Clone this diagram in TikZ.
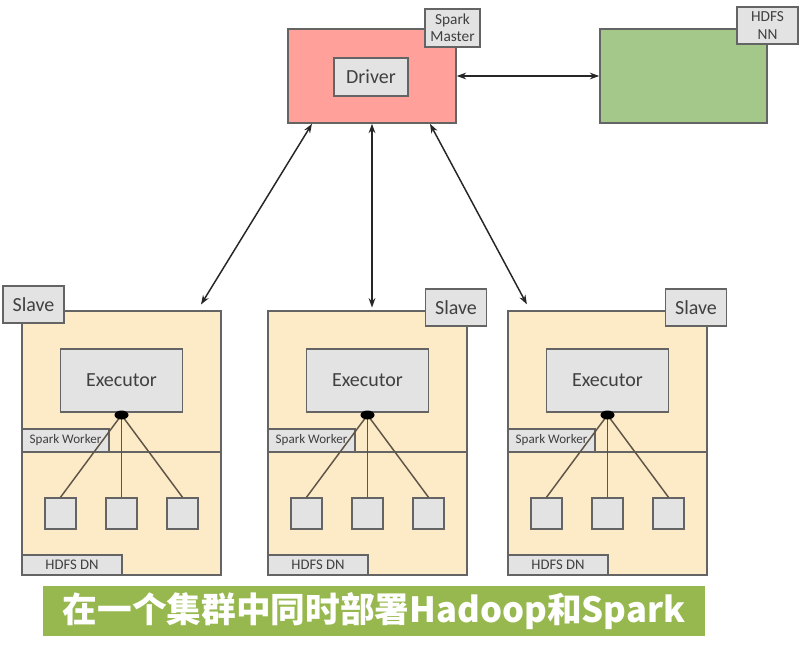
\documentclass[tikz,border=0pt]{standalone}
\usepackage{fontspec}
\setmainfont{Carlito}
\newfontfamily\cjk{Noto Sans CJK SC}
\usetikzlibrary{arrows.meta,calc,shapes.geometric}
\definecolor{masterred}{RGB}{255,160,155}
\definecolor{nngreen}{RGB}{164,200,138}
\definecolor{slavefill}{RGB}{253,235,200}
\definecolor{graybox}{RGB}{227,227,227}
\definecolor{edgegray}{RGB}{100,100,100}
\definecolor{hubline}{RGB}{95,85,70}
\definecolor{bannergreen}{RGB}{150,184,78}
\begin{document}
\begin{tikzpicture}[x=0.75pt,y=-0.75pt,
  sz/.style 2 args={minimum width=#1*0.75pt, minimum height=#2*0.75pt, inner sep=0pt},
  big/.style={draw=edgegray, line width=1.2pt},
  gbox/.style={draw=edgegray, line width=1.1pt, fill=graybox, text=black!75},
  conn/.style={draw=hubline, line width=1.1pt},
  link/.style={draw=black!85, line width=1.1pt, {Stealth[length=7pt,width=5pt]}-{Stealth[length=7pt,width=5pt]}},
  hubdot/.style={ellipse, fill=black, inner sep=0pt, minimum width=14*0.75pt, minimum height=9*0.75pt}
]
\useasboundingbox (0,0) rectangle (806,649);
\fill[white] (0,0) rectangle (806,649);

% master
\node[big, fill=masterred, sz={168}{94}] (master) at (372,76) {};
\node[gbox, sz={55}{38}, align=center, font=\fontsize{11.5}{13}\selectfont] (mlabel) at (452.5,28) {Spark\\Master};
\node[gbox, sz={74}{38}, font=\fontsize{15}{17}\selectfont] (driver) at (371,77) {Driver};

% namenode
\node[big, fill=nngreen, sz={167}{94}] (nn) at (683.5,76) {};
\node[gbox, sz={61}{37}, align=center, font=\fontsize{11.5}{13}\selectfont] (nnlabel) at (767.5,25.5) {HDFS\\NN};

% slaves
\foreach \i/\L/\lx/\ly in {1/22/33.5/304.5, 2/268/456/307.5, 3/508/696/307.5}{
  \node[big, fill=slavefill, sz={199}{264}] (s\i) at (\L+99.5,443) {};
  \draw[draw=edgegray, line width=1pt] ($(s\i.west)+(0,9)$) -- ($(s\i.east)+(0,9)$);
  \node[gbox, sz={61}{37}, font=\fontsize{15}{17}\selectfont] (sl\i) at (\lx,\ly) {Slave};
  \node[gbox, sz={122}{63}, font=\fontsize{15}{17}\selectfont] (ex\i) at (\L+99.5,380.5) {Executor};
  \node[gbox, sz={87}{23}, font=\fontsize{9.8}{11}\selectfont] (sw\i) at (\L+43.5,440.5) {Spark Worker};
  \node[gbox, sz={100}{20}, font=\fontsize{11}{12}\selectfont] (dn\i) at (\L+50,565) {HDFS DN};
  \node[gbox, sz={31}{31}] (qa\i) at (\L+38.5,513.5) {};
  \node[gbox, sz={31}{31}] (qb\i) at (\L+99.5,513.5) {};
  \node[gbox, sz={31}{31}] (qc\i) at (\L+160.5,513.5) {};
  \coordinate (hc\i) at (\L+99.5,415);
  \draw[conn] (hc\i) -- (qa\i.north);
  \draw[conn] (hc\i) -- (qb\i.north);
  \draw[conn] (hc\i) -- (qc\i.north);
  \node[hubdot] (hub\i) at (hc\i) {};
}

% connectors
\draw[link] (master.east) -- (nn.west);
\draw[link, shorten >=5pt] ($(master.south)+(-60,0)$) -- ($(s1.north)+(76,0)$);
\draw[link, shorten >=2pt] (master.south) -- (master.south |- s2.north);
\draw[link, shorten >=5pt] ($(master.south)+(58,0)$) -- ($(s3.north)+(-77.5,0)$);

% banner
\node[fill=bannergreen, sz={662}{50}, text=white, font=\cjk\bfseries\fontsize{26}{30}\selectfont] (banner) at (374,611) {在一个集群中同时部署Hadoop和Spark};
\end{tikzpicture}
\end{document}
